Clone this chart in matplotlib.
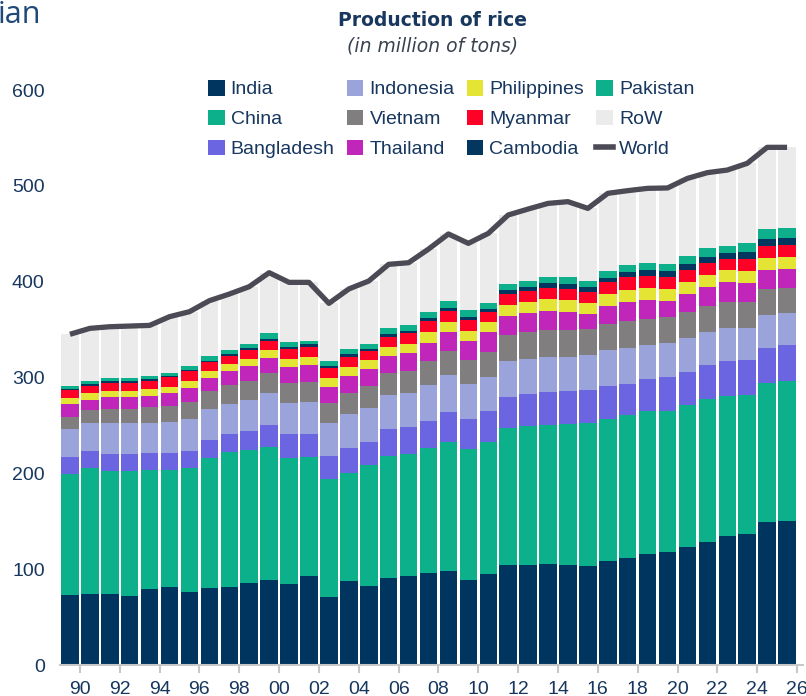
import numpy as np
import matplotlib
matplotlib.use("Agg")
import matplotlib.pyplot as plt
from matplotlib.patches import Patch
from matplotlib.lines import Line2D

plt.rcParams['font.family'] = ['Liberation Sans', 'DejaVu Sans']

# rice production, million tons (milled), 1989-2025
years = list(range(1989, 2026))

india = [72.7, 73.7, 74.4, 72.4, 79.6, 81.0, 76.5, 80.0, 81.7, 85.2, 89.0, 84.5,
         92.9, 71.3, 88.0, 82.8, 91.1, 92.9, 96.3, 98.4, 88.7, 95.3, 104.4, 104.4,
         105.8, 104.4, 103.6, 108.8, 112.0, 115.8, 117.9, 123.0, 128.0, 134.9,
         137.0, 149.6, 150.3]
china = [126.3, 132.2, 128.4, 129.7, 124.2, 122.8, 129.4, 136.3, 140.9, 139.2,
         138.8, 131.2, 123.8, 122.5, 112.4, 125.6, 126.7, 126.9, 130.5, 134.6,
         137.0, 137.7, 142.6, 145.0, 144.3, 147.4, 148.6, 147.9, 148.9, 148.9,
         146.8, 148.6, 149.9, 146.1, 144.4, 145.0, 145.7]
bangladesh = [17.7, 17.4, 17.4, 18.1, 17.7, 17.1, 17.4, 18.5, 18.4, 19.8, 22.6,
              25.0, 24.3, 24.6, 26.4, 24.6, 28.5, 28.9, 27.8, 31.3, 31.0, 32.1,
              33.0, 33.4, 34.4, 34.1, 34.8, 34.8, 32.7, 34.1, 36.2, 34.5, 35.2,
              36.2, 36.9, 36.2, 37.6]
indonesia = [29.6, 29.6, 32.0, 32.0, 30.7, 32.3, 33.4, 32.7, 31.4, 32.3, 33.4,
             33.0, 33.8, 33.8, 34.8, 35.2, 35.1, 35.1, 37.6, 38.3, 36.5, 35.1,
             37.2, 36.5, 36.9, 35.5, 36.2, 37.2, 37.5, 35.1, 34.8, 35.1, 34.7,
             34.1, 33.4, 34.4, 34.0]
vietnam = [12.8, 12.9, 14.9, 14.9, 16.7, 16.7, 17.7, 18.1, 19.4, 20.2, 20.9, 20.6,
           20.8, 21.2, 22.2, 22.9, 23.0, 23.3, 24.7, 25.1, 25.1, 26.7, 27.2, 27.8,
           28.2, 28.5, 27.4, 27.1, 27.9, 27.2, 27.1, 27.2, 26.8, 27.2, 27.4, 26.8,
           25.8]
thailand = [13.3, 10.7, 12.9, 12.9, 12.1, 13.6, 14.3, 13.6, 15.0, 15.3, 16.0, 16.7,
            17.4, 17.0, 17.8, 17.4, 18.0, 18.1, 19.5, 19.4, 20.1, 20.2, 20.1, 20.2,
            20.1, 18.5, 15.7, 19.1, 20.1, 20.1, 17.4, 18.7, 19.8, 20.8, 19.8, 20.2,
            20.1]
philippines = [6.2, 7.0, 6.2, 6.2, 6.7, 6.6, 7.7, 7.2, 7.0, 7.0, 8.0, 8.3, 8.7,
               9.1, 9.4, 9.8, 9.8, 10.1, 10.7, 10.8, 10.1, 10.5, 10.8, 11.5, 11.9,
               12.1, 11.1, 11.9, 12.2, 11.9, 12.2, 12.6, 12.2, 12.5, 12.2, 12.5,
               12.6]
myanmar = [8.4, 8.0, 8.4, 8.4, 9.0, 10.1, 10.0, 9.5, 9.0, 9.7, 9.7, 10.1, 10.5,
           10.4, 10.4, 9.0, 10.4, 10.8, 11.5, 11.2, 11.2, 11.1, 11.5, 11.5, 11.8,
           12.2, 12.2, 12.5, 13.2, 13.2, 12.5, 12.5, 12.9, 11.5, 12.2, 12.2, 11.8]
cambodia = [1.4, 1.4, 1.4, 1.4, 1.3, 1.4, 1.4, 1.4, 1.4, 1.8, 2.1, 2.1, 2.4, 2.4,
            3.1, 2.4, 2.8, 2.4, 3.5, 3.4, 3.8, 2.8, 4.5, 4.5, 4.9, 4.9, 4.8, 4.9,
            5.3, 5.5, 5.9, 6.2, 6.6, 7.0, 7.3, 7.6, 8.0]
pakistan = [3.0, 3.1, 3.2, 3.2, 3.9, 3.4, 4.2, 4.8, 4.5, 4.5, 5.6, 5.9, 3.5, 4.9,
            5.2, 5.6, 5.9, 6.0, 5.9, 7.0, 7.0, 6.3, 5.9, 5.9, 6.9, 7.3, 6.6, 6.9,
            7.3, 7.4, 7.3, 8.4, 8.7, 7.3, 9.8, 10.1, 9.8]
row = [53.9, 55.3, 54.6, 55.3, 52.8, 58.5, 56.7, 58.1, 58.4, 59.8, 63.3, 61.9,
       61.2, 60.2, 62.7, 65.4, 66.8, 65.3, 66.0, 70.3, 69.5, 72.6, 72.4, 75.1,
       76.5, 78.6, 75.5, 81.1, 77.9, 78.2, 79.7, 81.0, 79.0, 78.9, 83.1, 85.6,
       84.5]
world = [345.1, 351.3, 353.0, 353.7, 354.4, 363.5, 368.7, 380.2, 387.1, 394.8,
         409.4, 399.3, 399.3, 377.4, 392.4, 400.7, 418.1, 419.8, 434.0, 449.8,
         440.0, 450.4, 469.6, 475.8, 481.7, 483.5, 476.5, 492.2, 495.0, 497.4,
         497.8, 507.8, 513.8, 516.5, 523.5, 540.2, 540.2]

series = [("India", india, "#00355F"),
          ("China", china, "#0CB08B"),
          ("Bangladesh", bangladesh, "#6B65E2"),
          ("Indonesia", indonesia, "#9AA3DA"),
          ("Vietnam", vietnam, "#807E7F"),
          ("Thailand", thailand, "#BF26B9"),
          ("Philippines", philippines, "#E4E434"),
          ("Myanmar", myanmar, "#FF0026"),
          ("Cambodia", cambodia, "#03375F"),
          ("Pakistan", pakistan, "#0EB08C"),
          ("RoW", row, "#EBEBEB")]

navy = "#17375E"
world_col = "#4B4A55"

fig = plt.figure(figsize=(8.06, 6.96), dpi=100)
ax = fig.add_axes([60 / 806, 31 / 696, 743 / 806, 613.3 / 696])

x = np.array(years) + 0.5
bottom = np.zeros(len(years))
for name, vals, col in series:
    ax.bar(x, vals, width=0.88, bottom=bottom, color=col, linewidth=0, zorder=2)
    bottom = bottom + np.array(vals)

ax.plot(x, world, color=world_col, linewidth=3.8, solid_capstyle='butt', zorder=3)

ax.set_xlim(1989.0, 2026.3)
ax.set_ylim(0, 640)
ax.set_yticks(range(0, 601, 100))
xt = list(range(1990, 2027, 2))
ax.set_xticks(xt)
ax.set_xticklabels(["%02d" % (y % 100) for y in xt])

ax.tick_params(axis='y', length=0, pad=11, labelsize=14, labelcolor=navy)
ax.tick_params(axis='x', length=5.8, width=1.5, color='#C8C8C8', pad=6,
               labelsize=14, labelcolor=navy)
for s in ['top', 'right', 'left']:
    ax.spines[s].set_visible(False)
ax.spines['bottom'].set_color('#C8C8C8')
ax.spines['bottom'].set_linewidth(1.5)

handles = [Patch(facecolor=c, edgecolor='none') for _, _, c in series]
handles.append(Line2D([0], [0], color=world_col, linewidth=4))
labels = [n for n, _, _ in series] + ["World"]
fig.legend(handles, labels, ncol=4, loc='upper left',
           bbox_to_anchor=(208 / 806, 1 - 80 / 696), frameon=False,
           fontsize=14, labelcolor=navy, borderpad=0, borderaxespad=0,
           handlelength=0.85, handleheight=0.85, handletextpad=0.32,
           columnspacing=0.62, labelspacing=0.58)

fig.text(433 / 806, 1 - 20 / 696, "Production of rice", ha='center', va='center',
         fontsize=13.5, fontweight='bold', color=navy, family=['DejaVu Sans'])
fig.text(433 / 806, 1 - 46 / 696, "(in million of tons)", ha='center', va='center',
         fontsize=13.5, style='italic', color='#3A4250', family=['DejaVu Sans'])
fig.text(-2 / 806, 1 - 15 / 696, "ian", ha='left', va='center', fontsize=22,
         color='#1F4A78', family=['Open Sans', 'DejaVu Sans'])

fig.savefig("out.png", dpi=100)
